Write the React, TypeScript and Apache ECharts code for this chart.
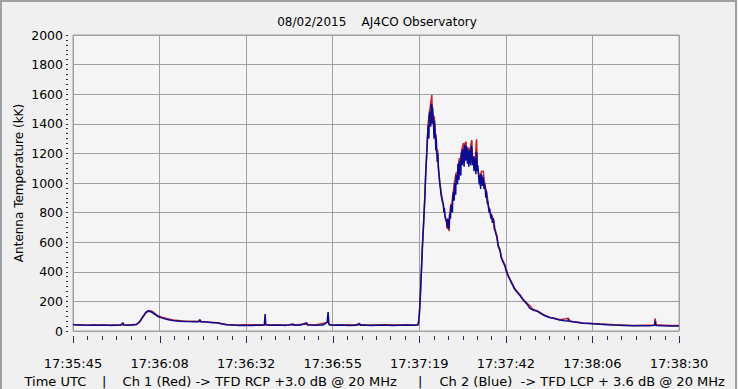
import React, { useEffect, useRef } from "react";
import * as echarts from "echarts";

const titleText = "08/02/2015    AJ4CO Observatory";
const yAxisName = "Antenna Temperature (kK)";
const footerParts = [
  "Time UTC",
  "|",
  "Ch 1 (Red) -> TFD RCP +3.0 dB @ 20 MHz",
  "|",
  "Ch 2 (Blue)  -> TFD LCP + 3.6 dB @ 20 MHz",
];
const footerX = [24.5, 102, 122.6, 418, 439.5];

// seconds after 17:35:45
const timeLabels = [
  "17:35:45",
  "17:36:08",
  "17:36:32",
  "17:36:55",
  "17:37:19",
  "17:37:42",
  "17:38:06",
  "17:38:30",
];
const minorPerMajor = 6;
const spanSeconds = 165;

const ch1Red: [number, number][] = [
  [0, 42], [3, 41], [6, 40], [9, 41], [12, 40], [15, 41], [17.3, 45], [18.2, 62], [19.1, 95],
  [19.9, 125], [20.5, 132], [21.3, 135], [22, 125], [23, 105], [24, 95], [25.5, 85], [27.2, 74],
  [30, 68], [33, 66], [36, 62], [38.5, 58], [40, 53], [41.8, 44], [44, 41], [48, 42], [52.3, 42],
  [56, 41], [60, 40], [63.5, 48], [63.8, 44], [66, 41], [69.45, 60], [70, 41], [75, 42], [80, 41],
  [85, 42], [90, 41], [94.0, 42],
  [94.3, 115], [94.5, 205], [94.9, 430], [95.4, 700], [95.8, 910], [96.3, 1200], [96.7, 1400],
  [97.0, 1480], [97.2, 1500], [97.5, 1560], [97.7, 1595], [97.9, 1420], [98.1, 1460], [98.3, 1330],
  [98.4, 1450], [98.6, 1340], [98.9, 1320], [99.0, 1230], [99.3, 1220], [99.5, 1100], [99.9, 1000],
  [100.4, 910], [100.8, 860], [101.3, 780], [101.7, 740], [101.9, 690], [102.2, 700], [102.4, 675],
  [102.6, 800], [102.9, 860], [103.1, 840], [103.4, 920], [103.6, 950], [103.9, 1010], [104.3, 1070],
  [104.5, 1060], [104.9, 1100], [105.2, 1170], [105.4, 1110], [105.8, 1220], [106.1, 1250],
  [106.3, 1270], [106.5, 1180], [106.7, 1265], [107.0, 1280], [107.2, 1230], [107.5, 1240],
  [107.9, 1230], [108.1, 1210], [108.4, 1270], [108.6, 1290], [108.8, 1150], [109.0, 1160],
  [109.3, 1180], [109.5, 1140], [109.8, 1280], [109.9, 1295], [110.1, 1100], [110.4, 1070],
  [110.8, 1030], [111.1, 1070], [111.3, 1080], [111.7, 1080], [112.0, 1010], [112.2, 980],
  [112.6, 940], [113.1, 850], [113.6, 800], [114.0, 780], [114.5, 755], [114.9, 690], [115.4, 645],
  [115.8, 580], [116.3, 545], [116.7, 495], [117.6, 445], [118.5, 375], [119.5, 325], [120.3, 285],
  [121.7, 245], [122.6, 212], [123.5, 190], [124.4, 170], [125.3, 145], [126.7, 133], [128.1, 110],
  [129.9, 92], [130.8, 88], [132.6, 76], [134.9, 86], [135.2, 68], [136.1, 64], [138.9, 54],
  [142.6, 49], [147.5, 42], [152.5, 38], [158.3, 40], [158.5, 86], [158.8, 42], [162.5, 37], [165, 37],
];

const ch2Blue: [number, number][] = [
  [0, 44], [1.2, 40], [2.5, 41], [4, 38], [5.5, 40], [7, 39], [8.5, 40], [10, 38], [11.5, 39],
  [13, 40], [13.6, 56], [13.9, 40], [15, 39], [16.3, 40], [17.3, 44], [18.2, 65], [19.1, 100],
  [19.9, 128], [20.5, 137], [21.2, 130], [22, 118], [23, 100], [23.7, 92], [25, 82], [26, 76],
  [27.2, 71], [29, 66], [31, 64], [33, 63], [34.2, 62], [34.5, 78], [34.8, 63], [36.5, 60], [38, 55],
  [39.5, 56], [40, 51], [41, 46], [41.8, 42], [43.5, 40], [45, 38], [47, 39], [49, 38], [51, 39],
  [52.1, 40], [52.3, 115], [52.5, 42], [54, 39], [56, 40], [58, 38], [59.9, 48], [60.2, 39],
  [62, 40], [63.6, 56], [63.9, 40], [66, 39], [68, 40], [69.2, 58], [69.45, 128], [69.7, 42],
  [71, 39], [73, 40], [75, 38], [77, 39], [78, 52], [78.3, 39], [79, 40], [81, 38], [83, 39],
  [85, 40], [87, 38], [89, 39], [91, 40], [93, 39], [94.0, 42],
  [94.3, 110], [94.5, 198], [94.7, 310], [94.9, 425], [95.1, 560], [95.4, 695], [95.6, 800],
  [95.8, 900], [96.0, 1050], [96.3, 1190], [96.5, 1300], [96.7, 1392], [96.9, 1300], [97.0, 1450],
  [97.2, 1482], [97.4, 1380], [97.5, 1530], [97.7, 1527], [97.8, 1400], [97.9, 1510], [98.1, 1440],
  [98.3, 1300], [98.4, 1420], [98.6, 1347], [98.8, 1220], [98.9, 1300], [99.0, 1211], [99.2, 1140],
  [99.3, 1200], [99.5, 1100], [99.7, 1040], [99.9, 987], [100.1, 950], [100.2, 920], [100.4, 899],
  [100.6, 870], [100.8, 858], [101.0, 800], [101.1, 830], [101.3, 772], [101.5, 750], [101.7, 738],
  [101.9, 700], [102.0, 760], [102.2, 716], [102.4, 690], [102.5, 780], [102.6, 795], [102.8, 760],
  [102.9, 850], [103.1, 829], [103.3, 800], [103.4, 900], [103.6, 941], [103.8, 880], [103.9, 1000],
  [104.0, 975], [104.2, 920], [104.3, 1050], [104.5, 1054], [104.7, 990], [104.8, 1130],
  [104.9, 1088], [105.1, 1020], [105.2, 1150], [105.4, 1100], [105.6, 1050], [105.7, 1180],
  [105.8, 1211], [106.0, 1120], [106.1, 1230], [106.3, 1178], [106.5, 1110], [106.6, 1240],
  [106.7, 1257], [106.9, 1150], [107.0, 1250], [107.2, 1223], [107.4, 1130], [107.5, 1230],
  [107.6, 1180], [107.8, 1110], [107.9, 1220], [108.1, 1200], [108.3, 1120], [108.4, 1250],
  [108.6, 1240], [108.8, 1120], [108.9, 1180], [109.0, 1155], [109.2, 1080], [109.3, 1170],
  [109.5, 1133], [109.7, 1060], [109.8, 1210], [109.9, 1200], [110.1, 1080], [110.2, 1120],
  [110.4, 1066], [110.6, 990], [110.7, 1050], [110.8, 1020], [111.0, 960], [111.1, 1060],
  [111.3, 1050], [111.5, 980], [111.6, 1040], [111.7, 1032], [111.9, 960], [112.0, 1000],
  [112.2, 975], [112.4, 900], [112.5, 950], [112.6, 930], [112.8, 860], [112.9, 880], [113.1, 840],
  [113.3, 800], [113.4, 830], [113.6, 795], [113.8, 760], [113.9, 790], [114.0, 772], [114.2, 730],
  [114.3, 760], [114.5, 750], [114.7, 690], [114.9, 682], [115.1, 660], [115.2, 650], [115.4, 637],
  [115.6, 600], [115.8, 570], [116.0, 560], [116.3, 540], [116.5, 505], [116.7, 490], [117.0, 470],
  [117.3, 455], [117.6, 440], [118.0, 400], [118.5, 370], [119.0, 345], [119.5, 320], [120.3, 280],
  [121.0, 260], [121.7, 240], [122.6, 209], [123.5, 185], [124.4, 153], [125.3, 142], [126.0, 136],
  [126.7, 130], [127.4, 118], [128.1, 108], [129.0, 98], [129.9, 90], [130.8, 86], [131.7, 80],
  [132.6, 74], [133.8, 70], [134.7, 68], [134.9, 80], [135.1, 66], [136.1, 62], [137.5, 57],
  [138.9, 52], [140.5, 50], [142.6, 47], [143.5, 45], [145.5, 42], [147.5, 40], [150, 38],
  [152.5, 36], [155, 36], [157, 35], [158.3, 38], [158.5, 65], [158.7, 37], [160.5, 35], [162.5, 34],
  [164.4, 34], [165, 35],
];

const FONT = "DejaVu Sans";
const TICK = "#2a2a50";

export default function App() {
  const ref = useRef<HTMLDivElement>(null);
  useEffect(() => {
    document.body.style.margin = "0";
    if (!ref.current) return;
    const chart = echarts.init(ref.current, undefined, { renderer: "svg" });
    // x axis works in units of 1/(labels-1) seconds so the label step is an integer
    const k = timeLabels.length - 1;
    const toAxis = (d: [number, number][]) => d.map(([t, v]) => [t * k, v]);

    const baseGraphics: any[] = [
      {
        id: "frame",
        type: "rect",
        shape: { x: 1, y: 1, width: 735, height: 390 },
        style: { fill: "none", stroke: "#a0a0a0", lineWidth: 2 },
        silent: true,
      },
      {
        id: "yname",
        type: "text",
        x: 19,
        y: 183,
        rotation: Math.PI / 2,
        style: {
          text: yAxisName,
          fontSize: 12,
          fontFamily: FONT,
          fill: "#000",
          textAlign: "center",
          textVerticalAlign: "middle",
        },
      },
      ...footerParts.map((t, i) => ({
        id: "foot" + i,
        type: "text",
        x: footerX[i],
        y: 381,
        style: {
          text: t,
          fontSize: 13,
          fontFamily: FONT,
          fill: "#000",
          textAlign: "left",
          textVerticalAlign: "middle",
        },
      })),
    ];

    chart.setOption({
      animation: false,
      backgroundColor: "#f0f0f0",
      textStyle: { fontFamily: FONT },
      title: {
        text: titleText,
        left: 372,
        top: 11,
        textAlign: "center",
        textStyle: { fontSize: 12, fontWeight: "normal", color: "#000", fontFamily: FONT },
      },
      grid: {
        left: 73,
        right: 59,
        top: 35,
        bottom: 58,
        show: true,
        backgroundColor: "#f5f5f8",
        borderColor: "#a0a0a0",
        borderWidth: 1,
      },
      xAxis: {
        type: "value",
        position: "bottom",
        offset: 5,
        min: 0,
        max: spanSeconds * k,
        interval: spanSeconds,
        axisLine: { show: false },
        axisTick: { show: false },
        splitLine: { show: true, lineStyle: { color: "#a0a0a0", width: 1 } },
        axisLabel: {
          show: true,
          margin: 21,
          fontSize: 13,
          color: "#000",
          fontFamily: FONT,
          formatter: (v: number) => timeLabels[Math.round(v / spanSeconds)] ?? "",
        },
      },
      yAxis: {
        type: "value",
        min: 0,
        max: 2000,
        interval: 200,
        offset: 5,
        axisLine: { show: true, onZero: false, lineStyle: { color: "#f0f0f0", width: 1 } },
        axisTick: { show: true, inside: false, length: 2, lineStyle: { color: TICK, width: 1 } },
        minorTick: { show: true, splitNumber: 6, length: 2, lineStyle: { color: TICK, width: 1 } },
        splitLine: { show: true, lineStyle: { color: "#a0a0a0", width: 1 } },
        axisLabel: {
          margin: 5,
          fontSize: 12.5,
          color: "#000",
          fontFamily: FONT,
          formatter: (v: number) => String(v),
        },
      },
      graphic: baseGraphics,
      series: [
        {
          name: "Ch 1 (Red)",
          type: "line",
          data: toAxis(ch1Red),
          showSymbol: false,
          lineStyle: { color: "#c0282d", width: 1.5 },
          z: 2,
        },
        {
          name: "Ch 2 (Blue)",
          type: "line",
          data: toAxis(ch2Blue),
          showSymbol: false,
          lineStyle: { color: "#0c0c8e", width: 1.5 },
          z: 3,
        },
      ],
    });

    // x-axis tick marks, placed through the axis scale
    const tickTop = chart.convertToPixel({ yAxisIndex: 0 }, 0) + 5;
    const tickGraphics: any[] = [];
    for (let i = 0; i < timeLabels.length; i++) {
      for (let j = 0; j < minorPerMajor; j++) {
        if (i === timeLabels.length - 1 && j > 0) break;
        const v = i * spanSeconds + (j * spanSeconds) / minorPerMajor;
        const px = Math.round(chart.convertToPixel({ xAxisIndex: 0 }, v)) + 0.5;
        const len = j === 0 ? 7 : 4;
        tickGraphics.push({
          id: "tick" + i + "_" + j,
          type: "line",
          z: 50,
          silent: true,
          shape: { x1: px, y1: tickTop, x2: px, y2: tickTop + len },
          style: { stroke: TICK, lineWidth: 1 },
        });
      }
    }
    chart.setOption({ graphic: [...baseGraphics, ...tickGraphics] });

    return () => chart.dispose();
  }, []);
  return <div ref={ref} style={{ width: 738, height: 389 }} />;
}
